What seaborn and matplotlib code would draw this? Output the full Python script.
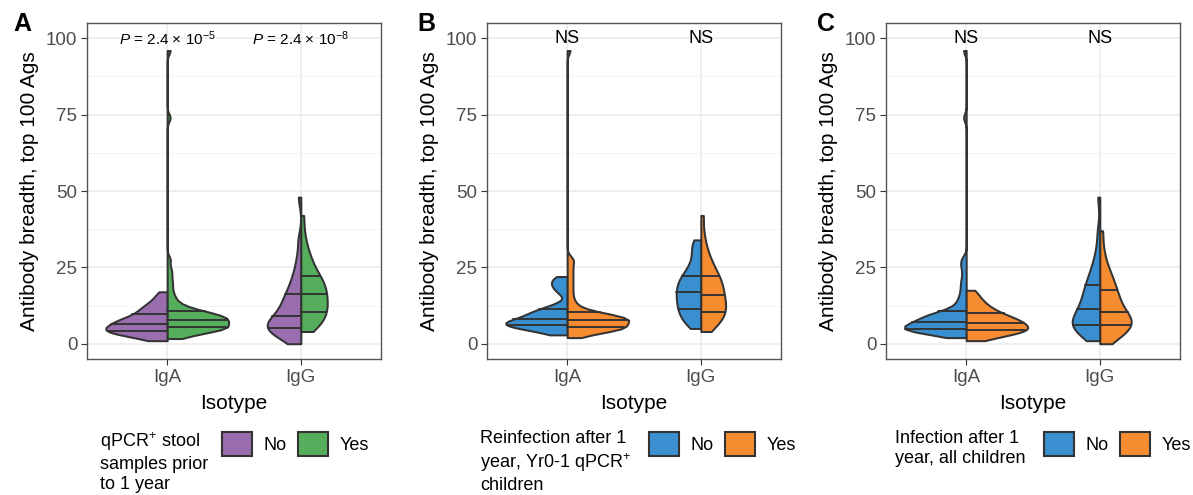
import numpy as np
import pandas as pd
import matplotlib
matplotlib.use("Agg")
import matplotlib.pyplot as plt
import seaborn as sns
from matplotlib.patches import Patch

# ---------------- data ----------------
ISOTYPES = ["IgA", "IgG"]
GROUPS = ["No", "Yes"]
Y_TICKS = [0, 25, 50, 75, 100]

# Panel A: qPCR+ stool samples prior to 1 year
A_IGA_NO = [1.0, 1.8, 2.4, 2.9, 3.3, 3.6, 3.8, 4.0, 4.1, 4.4, 4.7, 5.0, 5.3, 5.6, 5.9, 6.2, 6.6,
            6.9, 7.2, 7.5, 7.8, 8.2, 8.6, 9.1, 9.7, 10.3, 10.9, 11.5, 12.2, 13.0, 14.0, 15.3, 17.0]
A_IGA_YES = [1.7, 2.2, 2.6, 3.0, 3.3, 3.6, 3.85, 4.1, 4.3, 4.5, 4.65, 4.8, 4.9, 5.0, 5.1, 5.2, 5.3,
             5.45, 5.6, 5.75, 5.9, 6.05, 6.2, 6.4, 6.6, 6.8, 7.0, 7.15, 7.3, 7.45, 7.6, 7.75, 7.85,
             7.95, 8.1, 8.25, 8.4, 8.55, 8.7, 8.85, 9.0, 9.15, 9.3, 9.5, 9.7, 9.9, 10.1, 10.3, 10.5,
             10.7, 11.0, 11.3, 11.7, 12.2, 12.8, 13.5, 14.5, 15.6, 17.0, 18.8, 20.5, 22.5, 24.5, 27.5,
             74.0, 96.0]
A_IGG_NO = [0.0, 1.2, 2.2, 3.0, 3.6, 4.1, 4.5, 4.8, 5.1, 5.5, 5.9, 6.4, 6.9, 7.4, 7.9, 8.4, 9.0,
            9.8, 10.7, 11.6, 12.5, 13.4, 14.3, 15.2, 16.2, 17.5, 19.0, 20.5, 22.5, 25.0, 28.5, 34.0, 48.0]
A_IGG_YES = [4.0, 5.0, 5.9, 6.8, 7.6, 8.4, 9.1, 9.8, 10.5, 11.2, 11.9, 12.6, 13.3, 14.0, 14.7, 15.4, 16.2,
             16.9, 17.6, 18.3, 19.0, 19.8, 20.6, 21.4, 22.2, 23.3, 24.6, 26.0, 27.6, 29.5, 32.0, 36.0, 42.0]

# Panel B: reinfection after 1 year, Yr0-1 qPCR+ children
B_IGA_NO = [2.9, 3.7, 4.3, 4.8, 5.2, 5.5, 5.7, 5.9, 6.1, 6.3, 6.5, 6.7, 6.9, 7.2, 7.4, 7.7, 8.0,
            8.4, 8.8, 9.2, 9.6, 10.0, 10.4, 10.8, 11.3, 12.0, 13.0, 16.5, 18.0, 19.0, 20.0, 21.0, 22.0]
B_IGA_YES = [2.0, 2.5, 2.9, 3.3, 3.6, 3.9, 4.1, 4.3, 4.5, 4.65, 4.8, 4.9, 5.0, 5.1, 5.2, 5.25, 5.3,
             5.45, 5.6, 5.8, 6.0, 6.2, 6.4, 6.55, 6.7, 6.85, 7.0, 7.15, 7.3, 7.45, 7.55, 7.65, 7.75,
             7.85, 7.95, 8.05, 8.2, 8.35, 8.5, 8.65, 8.8, 8.95, 9.1, 9.25, 9.4, 9.6, 9.8, 10.0, 10.2,
             10.5, 10.9, 11.4, 12.0, 12.8, 13.8, 15.0, 16.5, 18.0, 19.5, 21.0, 22.5, 24.0, 25.5, 27.0,
             28.0, 96.0]
B_IGG_NO = [5.0, 6.0, 7.0, 7.8, 8.6, 9.4, 10.1, 10.8, 11.5, 12.2, 12.9, 13.6, 14.3, 15.0, 15.6, 16.2, 16.9,
            17.5, 18.2, 18.9, 19.6, 20.3, 21.0, 21.6, 22.2, 23.2, 24.4, 25.8, 27.4, 29.5, 31.5, 33.0, 34.0]
B_IGG_YES = [4.0, 5.2, 6.3, 7.2, 8.0, 8.7, 9.4, 10.0, 10.5, 11.2, 11.9, 12.6, 13.3, 14.0, 14.7, 15.4, 16.1,
             16.8, 17.6, 18.4, 19.2, 20.0, 20.8, 21.5, 22.2, 23.3, 24.5, 25.8, 27.2, 29.0, 31.5, 35.5, 42.0]

# Panel C: infection after 1 year, all children
C_IGA_NO = [2.0, 2.4, 2.8, 3.1, 3.35, 3.55, 3.75, 3.9, 4.05, 4.2, 4.3, 4.4, 4.5, 4.6, 4.67, 4.74, 4.8,
            4.95, 5.1, 5.25, 5.4, 5.55, 5.7, 5.85, 6.0, 6.15, 6.3, 6.45, 6.6, 6.75, 6.9, 7.05, 7.15,
            7.3, 7.5, 7.7, 7.9, 8.1, 8.3, 8.5, 8.7, 8.9, 9.1, 9.3, 9.5, 9.7, 9.9, 10.1, 10.3,
            10.7, 11.2, 11.8, 12.5, 13.3, 14.2, 15.3, 16.5, 18.0, 19.5, 21.0, 23.0, 25.0, 26.5, 28.0,
            74.0, 96.0]
C_IGA_YES = [1.0, 1.8, 2.5, 3.0, 3.4, 3.7, 4.0, 4.2, 4.4, 4.7, 5.0, 5.3, 5.6, 5.9, 6.2, 6.5, 6.9,
             7.2, 7.5, 7.8, 8.1, 8.5, 8.9, 9.4, 9.9, 10.4, 11.0, 11.7, 12.5, 13.4, 14.5, 15.8, 17.5]
C_IGG_NO = [1.0, 2.0, 2.9, 3.7, 4.4, 5.0, 5.5, 5.9, 6.2, 6.7, 7.2, 7.8, 8.4, 9.0, 9.7, 10.5, 11.3,
            12.2, 13.1, 14.0, 15.0, 16.0, 17.0, 18.0, 19.1, 20.3, 21.7, 23.2, 25.0, 27.5, 31.0, 37.0, 48.0]
C_IGG_YES = [0.0, 1.3, 2.4, 3.2, 3.9, 4.5, 5.0, 5.5, 6.0, 6.5, 7.0, 7.5, 8.0, 8.5, 9.0, 9.6, 10.3,
             11.1, 12.0, 12.9, 13.8, 14.7, 15.6, 16.6, 17.7, 18.8, 20.0, 21.3, 22.8, 24.5, 27.0, 31.0, 37.0]

PANEL_LETTERS = ["A", "B", "C"]
PANEL_NOTES = [[r"$P$ = 2.4 × 10$^{-5}$", r"$P$ = 2.4 × 10$^{-8}$"], ["NS", "NS"], ["NS", "NS"]]
LEGEND_TITLES = ["qPCR$^{+}$ stool\nsamples prior\nto 1 year",
                 "Reinfection after 1\nyear, Yr0-1 qPCR$^{+}$\nchildren",
                 "Infection after 1\nyear, all children"]
PALETTES = [["#9A6DAE", "#55AE5B"], ["#3A8FD1", "#F68B30"], ["#3A8FD1", "#F68B30"]]
PANEL_DATA = [
    {("IgA", "No"): A_IGA_NO, ("IgA", "Yes"): A_IGA_YES, ("IgG", "No"): A_IGG_NO, ("IgG", "Yes"): A_IGG_YES},
    {("IgA", "No"): B_IGA_NO, ("IgA", "Yes"): B_IGA_YES, ("IgG", "No"): B_IGG_NO, ("IgG", "Yes"): B_IGG_YES},
    {("IgA", "No"): C_IGA_NO, ("IgA", "Yes"): C_IGA_YES, ("IgG", "No"): C_IGG_NO, ("IgG", "Yes"): C_IGG_YES},
]

# ---------------- style ----------------
sns.set_theme(style="white")
plt.rcParams["font.family"] = ["Liberation Sans", "DejaVu Sans"]
plt.rcParams["mathtext.fontset"] = "custom"
plt.rcParams["mathtext.rm"] = "Liberation Sans"
plt.rcParams["mathtext.it"] = "Liberation Sans:italic"
plt.rcParams["mathtext.bf"] = "Liberation Sans:bold"
plt.rcParams["text.color"] = "black"

W, H = 1193, 495
fig = plt.figure(figsize=(W / 100, H / 100), dpi=100)

AX_LEFT = [87, 487, 886]
AX_W = 294
AX_TOP, AX_BOT = 23, 359
LETTER_X = [13, 417, 817]
TITLE_X = [100, 480, 895]
KEY_X = [222, 649, 1044]
EDGE = "#333333"


def bw_nrd0(kde):
    x = np.asarray(kde.dataset).ravel()
    sd = x.std(ddof=1)
    q75, q25 = np.percentile(x, [75, 25])
    h = 0.9 * min(sd, (q75 - q25) / 1.34) * len(x) ** -0.2
    return h / sd


for i in range(3):
    rows = []
    for (iso, grp), vals in PANEL_DATA[i].items():
        for v in vals:
            rows.append((iso, grp, v))
    df = pd.DataFrame(rows, columns=["Isotype", "group", "breadth"])

    ax = fig.add_axes([AX_LEFT[i] / W, (H - AX_BOT) / H, AX_W / W, (AX_BOT - AX_TOP) / H])
    ax.set_axisbelow(True)
    sns.violinplot(data=df, x="Isotype", y="breadth", hue="group", order=ISOTYPES, hue_order=GROUPS,
                   split=True, inner="quart", cut=0, density_norm="area", common_norm=False,
                   bw_method=bw_nrd0, bw_adjust=0.8, width=0.92, palette=PALETTES[i], saturation=1,
                   linecolor=EDGE, linewidth=1.45, legend=False, ax=ax)
    for ln in ax.lines:
        ln.set_linestyle("-")
        ln.set_color(EDGE)
        ln.set_linewidth(1.4)

    ax.set_xlim(-0.6, 1.6)
    ax.set_ylim(-5, 105)
    ax.set_yticks(Y_TICKS)
    ax.set_yticks([12.5, 37.5, 62.5, 87.5], minor=True)
    ax.grid(True, which="major", color="#EBEBEB", linewidth=1.1)
    ax.grid(True, which="minor", axis="y", color="#F2F2F2", linewidth=0.6)
    ax.tick_params(axis="both", which="major", length=4, width=0.8, color="#333333",
                   labelsize=13.5, labelcolor="#4D4D4D", pad=3, left=True, bottom=True)
    ax.tick_params(axis="y", which="minor", length=0)
    for sp in ax.spines.values():
        sp.set_color("#555555")
        sp.set_linewidth(1.0)
    ax.set_xlabel("Isotype", fontsize=15, color="black", labelpad=6)
    ax.set_ylabel("Antibody breadth, top 100 Ags", fontsize=15, color="black", labelpad=5)

    fs_note = 11 if i == 0 else 13
    for j, note in enumerate(PANEL_NOTES[i]):
        ax.text(j, 100, note, ha="center", va="center", fontsize=fs_note, color="black")

    fig.text(LETTER_X[i] / W, 1 - 12 / H, PANEL_LETTERS[i], fontsize=18, fontweight="bold",
             ha="left", va="top", color="black")

    fig.text(TITLE_X[i] / W, 1 - 430 / H, LEGEND_TITLES[i], fontsize=13, ha="left", va="top",
             linespacing=1.25, color="black")
    handles = [Patch(facecolor=c, edgecolor=EDGE, linewidth=1.5) for c in PALETTES[i]]
    leg = ax.legend(handles, GROUPS, ncol=2, loc="upper left",
                    bbox_to_anchor=(KEY_X[i] / W, 1 - 432 / H), bbox_transform=fig.transFigure,
                    frameon=False, fontsize=13, handlelength=1.66, handleheight=1.66,
                    handletextpad=0.66, columnspacing=0.62, borderpad=0, borderaxespad=0)
    for t in leg.get_texts():
        t.set_color("black")

fig.savefig("out.png", dpi=100)
